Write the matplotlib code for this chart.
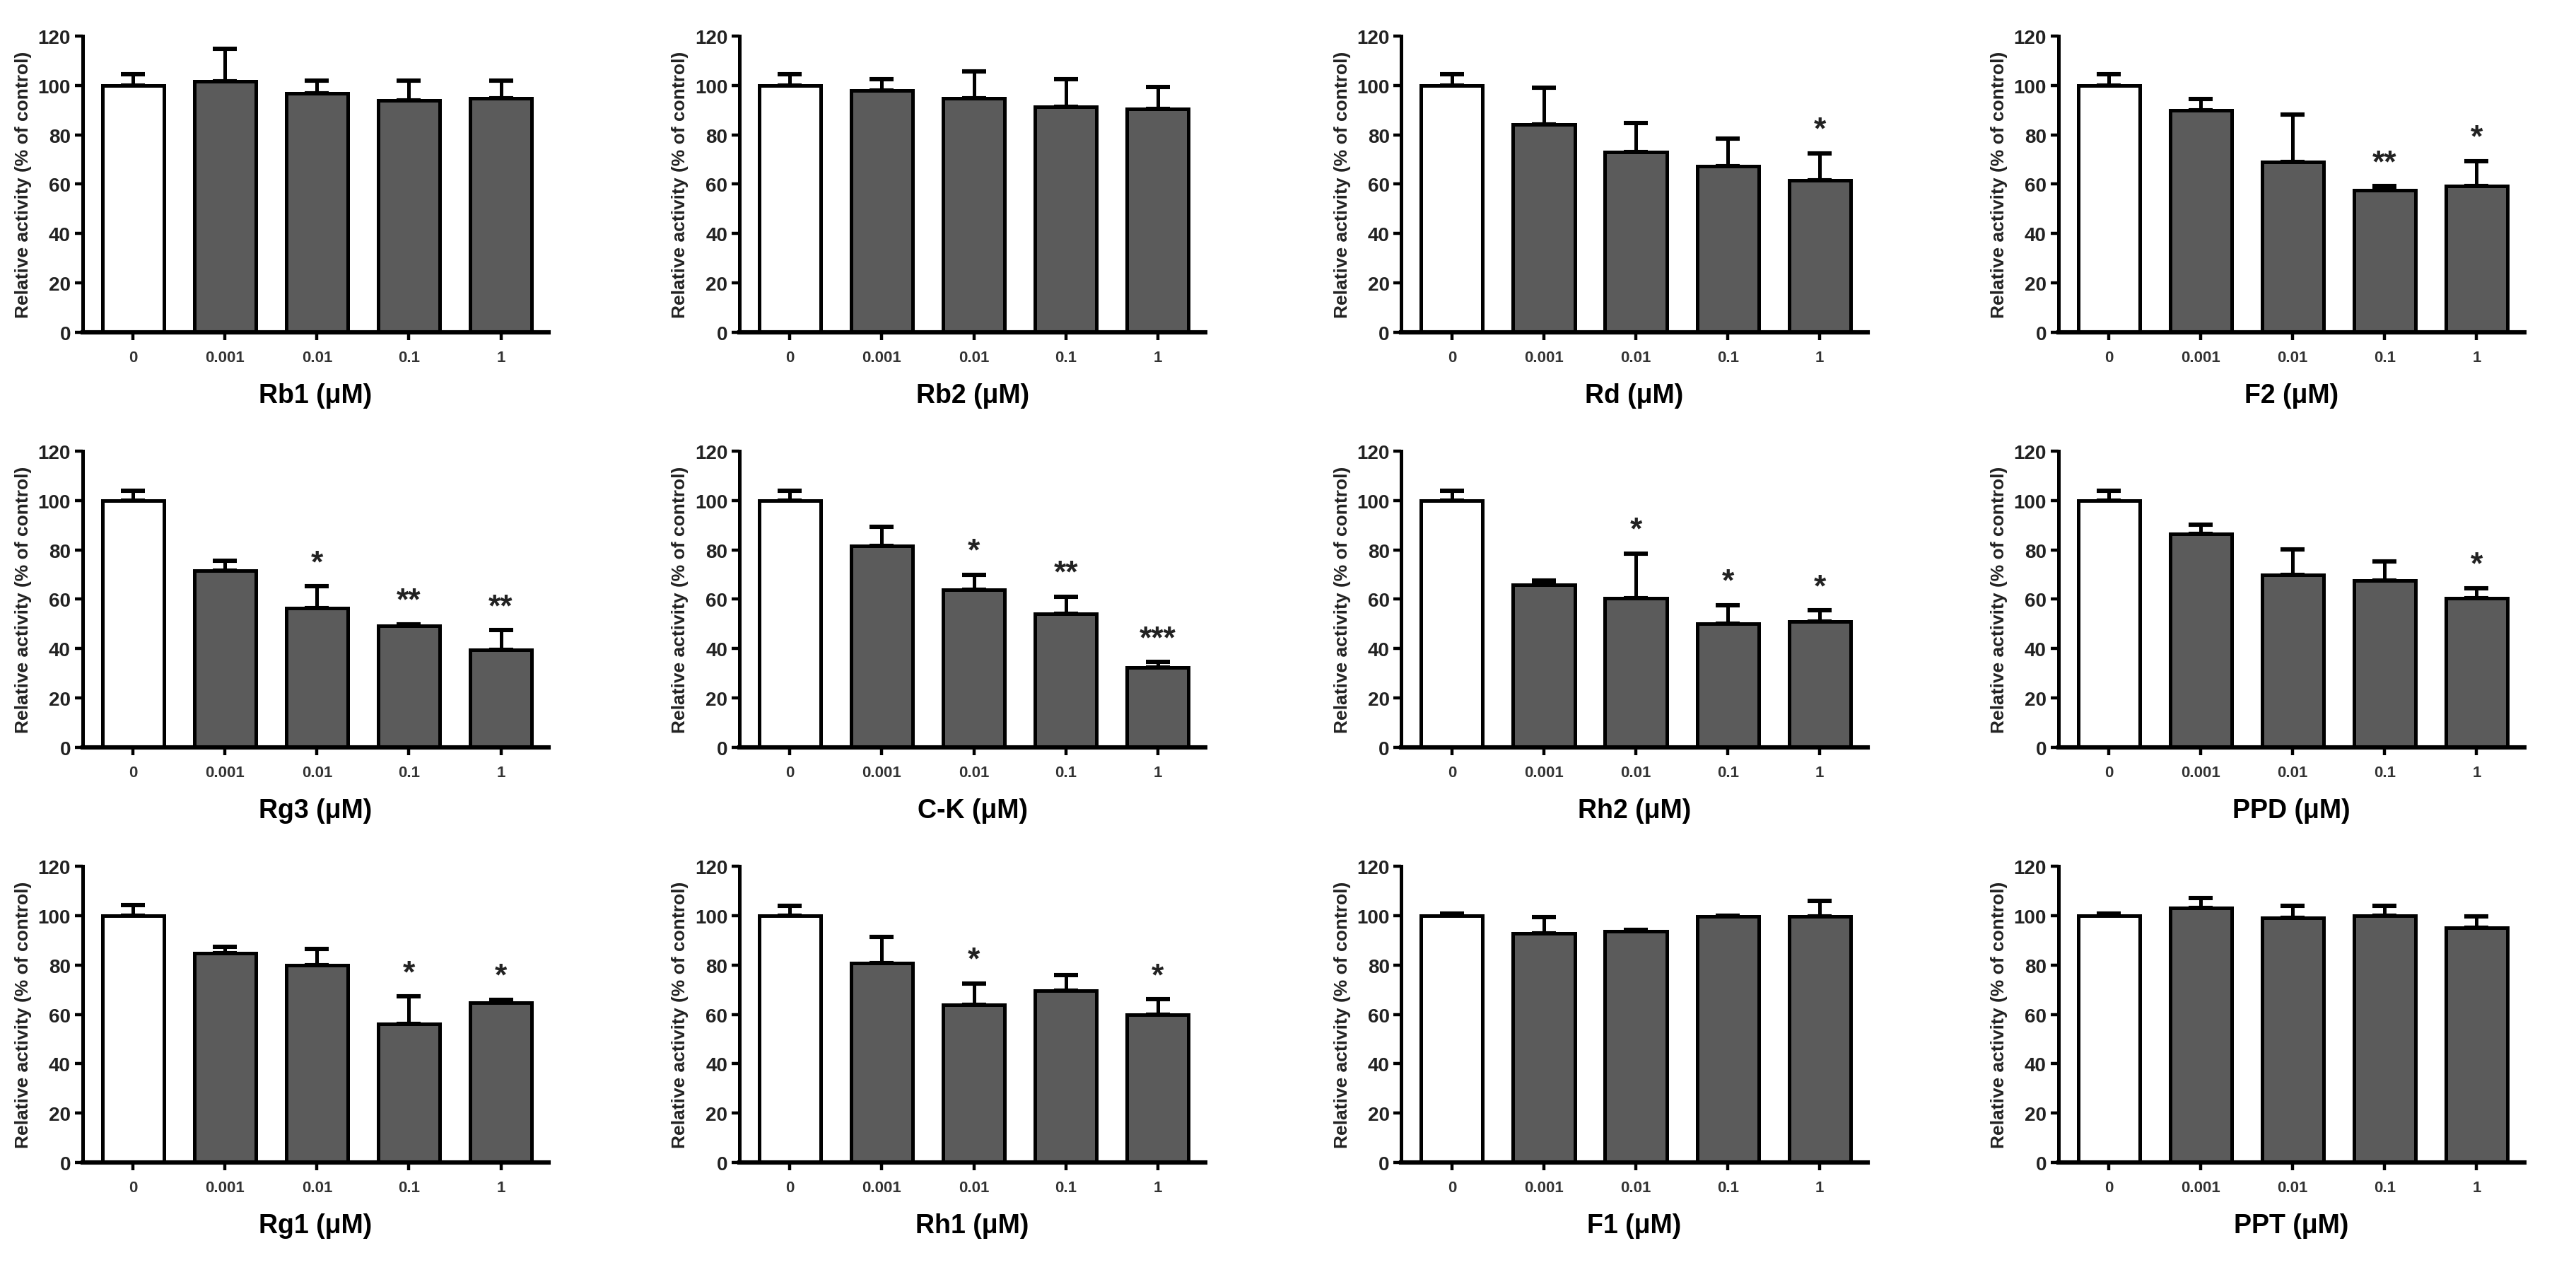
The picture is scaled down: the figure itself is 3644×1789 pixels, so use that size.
import matplotlib
matplotlib.use("Agg")
import matplotlib.pyplot as plt
import numpy as np

plt.rcParams['font.family'] = ['Liberation Sans', 'DejaVu Sans']
plt.rcParams['font.weight'] = 'bold'

concentrations = ["0", "0.001", "0.01", "0.1", "1"]
compounds = ["Rb1", "Rb2", "Rd", "F2",
             "Rg3", "C-K", "Rh2", "PPD",
             "Rg1", "Rh1", "F1", "PPT"]

means_Rb1 = [100, 101.6, 96.8, 93.8, 94.8]
errs_Rb1 = [4.4, 13.2, 5.1, 8.1, 7.1]
stars_Rb1 = ["", "", "", "", ""]

means_Rb2 = [100, 97.8, 94.8, 91.4, 90.6]
errs_Rb2 = [4.4, 4.7, 10.9, 11.1, 8.7]
stars_Rb2 = ["", "", "", "", ""]

means_Rd = [100, 84.1, 72.9, 67.3, 61.5]
errs_Rd = [4.4, 15.0, 11.8, 11.1, 11.0]
stars_Rd = ["", "", "", "", "*"]

means_F2 = [100, 89.8, 68.9, 57.5, 59.2]
errs_F2 = [4.4, 4.8, 19.4, 1.6, 10.2]
stars_F2 = ["", "", "", "**", "*"]

means_Rg3 = [100, 71.7, 56.3, 49.3, 39.6]
errs_Rg3 = [4.1, 3.9, 8.9, 0.6, 7.8]
stars_Rg3 = ["", "", "*", "**", "**"]

means_CK = [100, 81.5, 63.8, 54.0, 32.2]
errs_CK = [4.1, 7.8, 6.2, 7.0, 2.3]
stars_CK = ["", "", "*", "**", "***"]

means_Rh2 = [100, 66.0, 60.4, 50.0, 50.9]
errs_Rh2 = [4.1, 1.6, 18.2, 7.6, 4.6]
stars_Rh2 = ["", "", "*", "*", "*"]

means_PPD = [100, 86.5, 69.8, 67.6, 60.4]
errs_PPD = [4.1, 3.7, 10.3, 7.7, 4.1]
stars_PPD = ["", "", "", "", "*"]

means_Rg1 = [100, 84.7, 79.9, 56.1, 64.8]
errs_Rg1 = [4.3, 2.7, 6.5, 11.1, 1.1]
stars_Rg1 = ["", "", "", "*", "*"]

means_Rh1 = [100, 80.7, 64.0, 69.5, 59.9]
errs_Rh1 = [4.1, 10.6, 8.5, 6.3, 6.2]
stars_Rh1 = ["", "", "*", "", "*"]

means_F1 = [100, 92.7, 93.6, 99.8, 99.8]
errs_F1 = [0.8, 6.8, 0.7, 0.3, 6.1]
stars_F1 = ["", "", "", "", ""]

means_PPT = [100, 103.2, 99.1, 99.9, 95.2]
errs_PPT = [0.8, 4.0, 4.9, 4.1, 4.5]
stars_PPT = ["", "", "", "", ""]

all_means = [means_Rb1, means_Rb2, means_Rd, means_F2,
             means_Rg3, means_CK, means_Rh2, means_PPD,
             means_Rg1, means_Rh1, means_F1, means_PPT]
all_errs = [errs_Rb1, errs_Rb2, errs_Rd, errs_F2,
            errs_Rg3, errs_CK, errs_Rh2, errs_PPD,
            errs_Rg1, errs_Rh1, errs_F1, errs_PPT]
all_stars = [stars_Rb1, stars_Rb2, stars_Rd, stars_F2,
             stars_Rg3, stars_CK, stars_Rh2, stars_PPD,
             stars_Rg1, stars_Rh1, stars_F1, stars_PPT]

fig = plt.figure(figsize=(18.22, 8.95), dpi=200)

col_left = [0.032, 0.287, 0.544, 0.799]
row_bottom = [0.737, 0.409, 0.081]
ax_w = 0.181
ax_h = 0.234

grey = '#5b5b5b'
x = np.arange(len(concentrations))

for i, name in enumerate(compounds):
    r, c = divmod(i, 4)
    ax = fig.add_axes([col_left[c], row_bottom[r], ax_w, ax_h])
    m = all_means[i]
    e = all_errs[i]
    colors = ['white'] + [grey] * (len(m) - 1)
    ax.bar(x, m, width=0.67, color=colors, edgecolor='black', linewidth=1.8, zorder=2)
    ax.errorbar(x, m, yerr=[np.zeros(len(e)), e], fmt='none', ecolor='black',
                elinewidth=1.8, capsize=6, capthick=2.2, zorder=1)
    for xi, mi, ei, s in zip(x, m, e, all_stars[i]):
        if s:
            ax.text(xi, mi + ei + 3.5, s, ha='center', va='bottom', fontsize=16,
                    fontweight='bold', color='#222222')
    ax.set_xlim(-0.55, 4.52)
    ax.set_ylim(0, 120)
    ax.set_yticks(np.arange(0, 121, 20))
    ax.set_xticks(x)
    ax.set_xticklabels(concentrations, fontsize=8, fontweight='bold', color='#333333')
    ax.tick_params(axis='y', labelsize=10, width=1.6, length=4, colors='black',
                   labelcolor='#222222', pad=2)
    ax.tick_params(axis='x', width=1.6, length=4, pad=5)
    for lab in ax.get_yticklabels():
        lab.set_fontweight('bold')
    for sp in ['top', 'right']:
        ax.spines[sp].set_visible(False)
    ax.spines['left'].set_linewidth(1.8)
    ax.spines['bottom'].set_linewidth(2.2)
    ax.set_ylabel("Relative activity (% of control)", fontsize=9.5, fontweight='bold',
                  color='#222222', labelpad=3)
    ax.set_xlabel(f"{name} (\u03bcM)", fontsize=13.5, fontweight='bold', labelpad=9)

fig.savefig("out.png", dpi=200, facecolor='white')
